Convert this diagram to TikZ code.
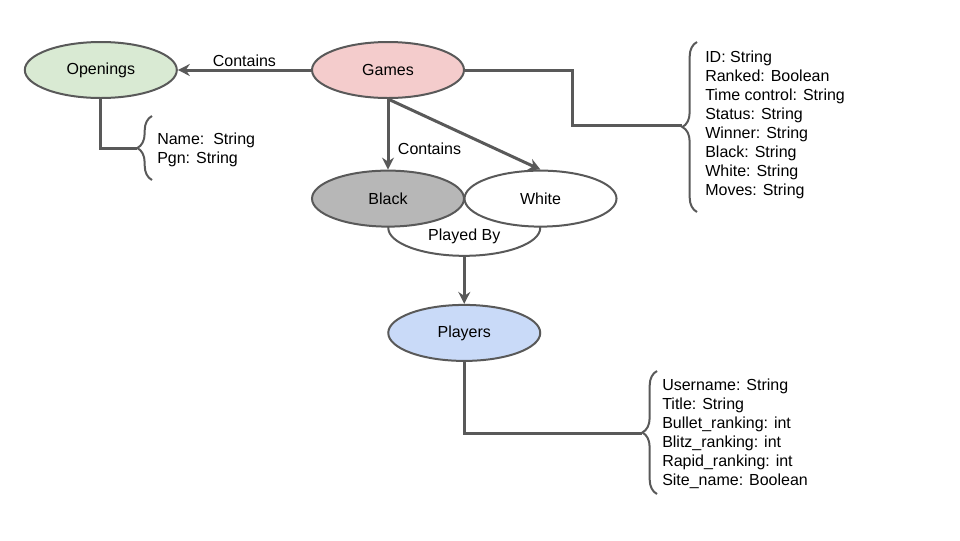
\documentclass[tikz,border=0pt]{standalone}
\usepackage{fontspec}
\setmainfont{Liberation Sans}
\usetikzlibrary{shapes.geometric,arrows.meta,backgrounds,decorations.pathreplacing,positioning}
\definecolor{edgegray}{HTML}{595959}
\definecolor{openingsgreen}{HTML}{D9EAD3}
\definecolor{gamespink}{HTML}{F4CCCC}
\definecolor{blackgray}{HTML}{B7B7B7}
\definecolor{playersblue}{HTML}{C9DAF8}
\tikzstyle{entity} = [draw=edgegray, ellipse, line width=1.5pt, minimum width=114pt, minimum height=42pt]
\tikzstyle{attr} = [align=left, inner sep=0pt, anchor=west]
\tikzstyle{link} = [draw=edgegray, line width=2.25pt]
\tikzstyle{linkarrow} = [link, -{Stealth[length=9pt,width=9pt,inset=3pt]}]
\tikzstyle{attrbrace} = [draw=edgegray, line width=1.5pt, decorate, decoration={brace, amplitude=11pt}]

\begin{document}
\begin{tikzpicture}[auto, x=0.75pt, y=-0.75pt, node distance=2cm, font=\fontsize{12}{14.25}\selectfont]
\useasboundingbox (0,0) rectangle (960,540);

\node [entity, fill=gamespink] at (388,70) (games) {Games};
\node [entity, fill=openingsgreen, left of=games, node distance=7.57cm] (openings) {Openings};
\node [entity, fill=blackgray, below of=games, node distance=3.39cm] (black) {Black};
\node [entity, fill=white, right of=black, node distance=4.02cm] (white) {White};
\begin{scope}[on background layer]
\node [entity, fill=white, below of=black, xshift=2.01cm, node distance=0.77cm, text height=19.5pt, text depth=0pt] (playedby) {Played By};
\end{scope}
\node [entity, fill=playersblue, below of=playedby, node distance=2.77cm] (players) {Players};

\draw [linkarrow] (games.west) -- node [above, yshift=-2pt] {Contains} (openings.east);
\draw [linkarrow] (games.south) -- node [right, pos=0.7, xshift=3pt] {Contains} (black.north);
\draw [linkarrow] (games.south) -- (white.north);
\draw [linkarrow] (playedby.south) -- (players.north);

% attribute lists
\coordinate (gamestip) at (682,125);
\draw [link] (games.east) -- ++(107,0) |- (gamestip);
\draw [attrbrace] (697,212) -- (697,42);
\node [attr] (gamesattr) at (705,124.5) {ID: String\\Ranked: Boolean\\Time control: String\\Status: String\\Winner: String\\Black: String\\White: String\\Moves: String};

\coordinate (openingstip) at (137,148);
\draw [link] (openings.south) |- (openingstip);
\draw [attrbrace] (152,180) -- (152,116);
\node [attr] (openingsattr) at (157,150) {Name:\ \ String\\Pgn: String};

\coordinate (playerstip) at (642,433);
\draw [link] (players.south) |- (playerstip);
\draw [attrbrace] (657,494) -- (657,371);
\node [attr] (playersattr) at (662,433.5) {Username: String\\Title: String\\Bullet\_ranking: int\\Blitz\_ranking: int\\Rapid\_ranking: int\\Site\_name: Boolean};

\end{tikzpicture}
\end{document}
